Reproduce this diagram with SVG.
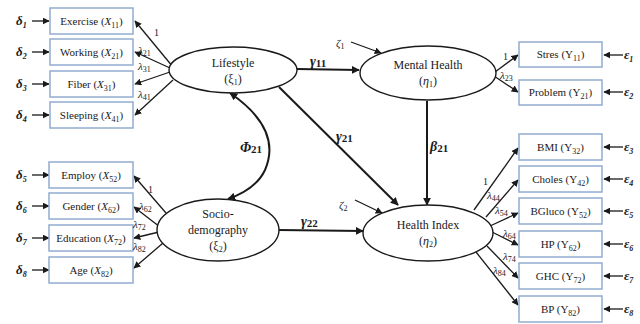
<svg xmlns="http://www.w3.org/2000/svg" width="640" height="324" viewBox="0 0 640 324" font-family="'Liberation Serif', 'DejaVu Serif', serif">
<defs>
<marker id="ah" viewBox="0 0 10 10" refX="9" refY="5" markerWidth="7" markerHeight="7" markerUnits="userSpaceOnUse" orient="auto-start-reverse">
<path d="M0,0 L10,5 L0,10 z" fill="#1a1a1a"/>
</marker>
<marker id="ahb" viewBox="0 0 10 10" refX="9" refY="5" markerWidth="8" markerHeight="8" markerUnits="userSpaceOnUse" orient="auto-start-reverse">
<path d="M0,0 L10,5 L0,10 z" fill="#1a1a1a"/>
</marker>
</defs>
<style>
text{font-family:"Liberation Serif","DejaVu Serif",serif;fill:#1a1a1a}
.box{fill:#fff;stroke:#93acd0;stroke-width:1.5}
.bt{font-size:11px;text-anchor:middle}
.el{fill:#fff;stroke:#1a1a1a;stroke-width:1.4}
.et{font-size:12px;text-anchor:middle}
.ln{stroke:#1a1a1a;stroke-width:1.3;fill:none;marker-end:url(#ah)}
.th{stroke:#1a1a1a;stroke-width:2;fill:none;marker-end:url(#ahb)}
.err{font-size:13px;font-weight:bold;font-style:italic}
.lam{font-size:11px;font-style:italic}
.one{font-size:10px}
.gk{font-size:14px;font-weight:bold;font-style:italic}
.s{font-style:normal}
</style>
<rect width="640" height="324" fill="#fff"/>

<g id="connectors">
<line class="ln" x1="32" y1="21" x2="49" y2="21"/>
<line class="ln" x1="32" y1="52" x2="49" y2="52"/>
<line class="ln" x1="32" y1="84" x2="49" y2="84"/>
<line class="ln" x1="32" y1="115" x2="49" y2="115"/>
<line class="ln" x1="32" y1="175" x2="49" y2="175"/>
<line class="ln" x1="32" y1="206" x2="49" y2="206"/>
<line class="ln" x1="32" y1="238" x2="49" y2="238"/>
<line class="ln" x1="32" y1="270" x2="49" y2="270"/>
<line class="ln" x1="623" y1="55" x2="604" y2="55"/>
<line class="ln" x1="623" y1="92" x2="604" y2="92"/>
<line class="ln" x1="623" y1="147" x2="604" y2="147"/>
<line class="ln" x1="623" y1="179" x2="604" y2="179"/>
<line class="ln" x1="623" y1="211" x2="604" y2="211"/>
<line class="ln" x1="623" y1="244" x2="604" y2="244"/>
<line class="ln" x1="623" y1="276" x2="604" y2="276"/>
<line class="ln" x1="623" y1="309" x2="604" y2="309"/>
<line class="ln" x1="173" y1="67" x2="135" y2="21"/>
<line class="ln" x1="170" y1="68" x2="135" y2="52"/>
<line class="ln" x1="170" y1="72" x2="135" y2="84"/>
<line class="ln" x1="173" y1="80" x2="135" y2="115"/>
<line class="ln" x1="166" y1="213" x2="134" y2="176"/>
<line class="ln" x1="160" y1="227" x2="134" y2="207"/>
<line class="ln" x1="159" y1="232" x2="134" y2="238"/>
<line class="ln" x1="163" y1="243" x2="134" y2="268"/>
<line class="ln" x1="495" y1="72" x2="518" y2="55"/>
<line class="ln" x1="494" y1="76" x2="518" y2="92"/>
<line class="ln" x1="474" y1="210" x2="518" y2="148"/>
<line class="ln" x1="486" y1="217" x2="518" y2="180"/>
<line class="ln" x1="490" y1="226" x2="518" y2="213"/>
<line class="ln" x1="492" y1="232" x2="518" y2="245"/>
<line class="ln" x1="487" y1="246" x2="518" y2="278"/>
<line class="ln" x1="476" y1="252" x2="518" y2="305"/>
<line class="ln" x1="351" y1="42" x2="381" y2="53"/>
<line class="ln" x1="355" y1="200" x2="382" y2="213"/>
<line class="th" x1="297" y1="69" x2="359" y2="70"/>
<line class="th" x1="279" y1="87" x2="398" y2="205"/>
<line class="th" x1="278" y1="230" x2="363" y2="231"/>
<line class="th" x1="427" y1="101" x2="427" y2="205"/>
<path class="th" d="M230,93 C262,115 278,140 265,170 C258,185 245,193 228,199" marker-start="url(#ahb)"/>
</g>

<g id="x11"><rect class="box" x="50" y="8" width="83" height="26"/><text class="bt" x="91.5" y="25">Exercise (<tspan font-style="italic">X</tspan><tspan dy="3" font-size="8">11</tspan><tspan dy="-3">)</tspan></text></g>
<g id="x21"><rect class="box" x="50" y="39" width="83" height="26"/><text class="bt" x="91.5" y="56">Working (<tspan font-style="italic">X</tspan><tspan dy="3" font-size="8">21</tspan><tspan dy="-3">)</tspan></text></g>
<g id="x31"><rect class="box" x="50" y="71" width="83" height="26"/><text class="bt" x="91.5" y="88">Fiber (<tspan font-style="italic">X</tspan><tspan dy="3" font-size="8">31</tspan><tspan dy="-3">)</tspan></text></g>
<g id="x41"><rect class="box" x="50" y="102" width="83" height="26"/><text class="bt" x="91.5" y="119">Sleeping (<tspan font-style="italic">X</tspan><tspan dy="3" font-size="8">41</tspan><tspan dy="-3">)</tspan></text></g>
<g id="x52"><rect class="box" x="49" y="162" width="84" height="26"/><text class="bt" x="91" y="179">Employ (<tspan font-style="italic">X</tspan><tspan dy="3" font-size="8">52</tspan><tspan dy="-3">)</tspan></text></g>
<g id="x62"><rect class="box" x="49" y="193" width="84" height="26"/><text class="bt" x="91" y="210">Gender (<tspan font-style="italic">X</tspan><tspan dy="3" font-size="8">62</tspan><tspan dy="-3">)</tspan></text></g>
<g id="x72"><rect class="box" x="49" y="225" width="84" height="26"/><text class="bt" x="91" y="242" font-size="10">Education (<tspan font-style="italic">X</tspan><tspan dy="3" font-size="8">72</tspan><tspan dy="-3">)</tspan></text></g>
<g id="x82"><rect class="box" x="49" y="257" width="84" height="26"/><text class="bt" x="91" y="274">Age (<tspan font-style="italic">X</tspan><tspan dy="3" font-size="8">82</tspan><tspan dy="-3">)</tspan></text></g>

<g id="y11"><rect class="box" x="519" y="42" width="83" height="25"/><text class="bt" x="560.5" y="58">Stres (Y<tspan dy="3" font-size="8">11</tspan><tspan dy="-3">)</tspan></text></g>
<g id="y21"><rect class="box" x="519" y="80" width="83" height="25"/><text class="bt" x="560.5" y="96">Problem (Y<tspan dy="3" font-size="8">21</tspan><tspan dy="-3">)</tspan></text></g>
<g id="y32"><rect class="box" x="519" y="134" width="83" height="26"/><text class="bt" x="560.5" y="151">BMI (Y<tspan dy="3" font-size="8">32</tspan><tspan dy="-3">)</tspan></text></g>
<g id="y42"><rect class="box" x="519" y="166" width="83" height="26"/><text class="bt" x="560.5" y="183">Choles (Y<tspan dy="3" font-size="8">42</tspan><tspan dy="-3">)</tspan></text></g>
<g id="y52"><rect class="box" x="519" y="198" width="83" height="26"/><text class="bt" x="560.5" y="215">BGluco (Y<tspan dy="3" font-size="8">52</tspan><tspan dy="-3">)</tspan></text></g>
<g id="y62"><rect class="box" x="519" y="231" width="83" height="26"/><text class="bt" x="560.5" y="248">HP (Y<tspan dy="3" font-size="8">62</tspan><tspan dy="-3">)</tspan></text></g>
<g id="y72"><rect class="box" x="519" y="263" width="83" height="26"/><text class="bt" x="560.5" y="280">GHC (Y<tspan dy="3" font-size="8">72</tspan><tspan dy="-3">)</tspan></text></g>
<g id="y82"><rect class="box" x="519" y="296" width="83" height="26"/><text class="bt" x="560.5" y="313">BP (Y<tspan dy="3" font-size="8">82</tspan><tspan dy="-3">)</tspan></text></g>

<g id="lifestyle"><ellipse class="el" cx="233" cy="70" rx="64" ry="23"/><text class="et" x="233" y="67">Lifestyle</text><text class="et" x="233" y="83">(ξ<tspan dy="2" font-size="8">1</tspan><tspan dy="-2">)</tspan></text></g>
<g id="socio"><ellipse class="el" cx="218" cy="230" rx="61" ry="31"/><text class="et" x="218" y="218">Socio-</text><text class="et" x="218" y="234">demography</text><text class="et" x="218" y="250">(ξ<tspan dy="2" font-size="8">2</tspan><tspan dy="-2">)</tspan></text></g>
<g id="mental"><ellipse class="el" cx="428" cy="73" rx="68" ry="27"/><text class="et" x="428" y="69">Mental Health</text><text class="et" x="428" y="85">(<tspan font-style="italic">η</tspan><tspan dy="2" font-size="8">1</tspan><tspan dy="-2">)</tspan></text></g>
<g id="health"><ellipse class="el" cx="428" cy="233" rx="65" ry="28"/><text class="et" x="428" y="229">Health Index</text><text class="et" x="428" y="245">(<tspan font-style="italic">η</tspan><tspan dy="2" font-size="8">2</tspan><tspan dy="-2">)</tspan></text></g>

<g id="labels">
<text class="err" x="16" y="25">δ<tspan dy="3" font-size="8">1</tspan></text>
<text class="err" x="16" y="56">δ<tspan dy="3" font-size="8">2</tspan></text>
<text class="err" x="16" y="88">δ<tspan dy="3" font-size="8">3</tspan></text>
<text class="err" x="16" y="119">δ<tspan dy="3" font-size="8">4</tspan></text>
<text class="err" x="16" y="179">δ<tspan dy="3" font-size="8">5</tspan></text>
<text class="err" x="16" y="210">δ<tspan dy="3" font-size="8">6</tspan></text>
<text class="err" x="16" y="242">δ<tspan dy="3" font-size="8">7</tspan></text>
<text class="err" x="16" y="274">δ<tspan dy="3" font-size="8">8</tspan></text>
<text class="err" x="624" y="59">ε<tspan dy="3" font-size="8">1</tspan></text>
<text class="err" x="624" y="96">ε<tspan dy="3" font-size="8">2</tspan></text>
<text class="err" x="624" y="151">ε<tspan dy="3" font-size="8">3</tspan></text>
<text class="err" x="624" y="183">ε<tspan dy="3" font-size="8">4</tspan></text>
<text class="err" x="624" y="215">ε<tspan dy="3" font-size="8">5</tspan></text>
<text class="err" x="624" y="248">ε<tspan dy="3" font-size="8">6</tspan></text>
<text class="err" x="624" y="280">ε<tspan dy="3" font-size="8">7</tspan></text>
<text class="err" x="624" y="313">ε<tspan dy="3" font-size="8">8</tspan></text>
<text class="one" x="154" y="36">1</text>
<text class="lam" x="138" y="54">λ<tspan class="s" dy="2" font-size="8">21</tspan></text>
<text class="lam" x="138" y="70">λ<tspan class="s" dy="2" font-size="8">31</tspan></text>
<text class="lam" x="138" y="98">λ<tspan class="s" dy="2" font-size="8">41</tspan></text>
<text class="one" x="148" y="193">1</text>
<text class="lam" x="139" y="210">λ<tspan class="s" dy="2" font-size="8">62</tspan></text>
<text class="lam" x="133" y="228">λ<tspan class="s" dy="2" font-size="8">72</tspan></text>
<text class="lam" x="133" y="250">λ<tspan class="s" dy="2" font-size="8">82</tspan></text>
<text class="one" x="503" y="60">1</text>
<text class="lam" x="500" y="79">λ<tspan class="s" dy="2" font-size="8">23</tspan></text>
<text class="one" x="483" y="185">1</text>
<text class="lam" x="487" y="199">λ<tspan class="s" dy="2" font-size="8">44</tspan></text>
<text class="lam" x="495" y="214">λ<tspan class="s" dy="2" font-size="8">54</tspan></text>
<text class="lam" x="503" y="237">λ<tspan class="s" dy="2" font-size="8">64</tspan></text>
<text class="lam" x="503" y="260">λ<tspan class="s" dy="2" font-size="8">74</tspan></text>
<text class="lam" x="493" y="274">λ<tspan class="s" dy="2" font-size="8">84</tspan></text>
<text class="lam" x="336" y="47" font-size="12">ζ<tspan class="s" dy="2" font-size="8">1</tspan></text>
<text class="lam" x="339" y="209" font-size="12">ζ<tspan class="s" dy="2" font-size="8">2</tspan></text>
<text class="gk" x="310" y="66">γ<tspan class="s" dy="1" font-size="11">11</tspan></text>
<text class="gk" x="336" y="141">γ<tspan class="s" dy="1" font-size="11">21</tspan></text>
<text class="gk" x="301" y="226">γ<tspan class="s" dy="1" font-size="11">22</tspan></text>
<text class="gk" x="430" y="151">β<tspan class="s" dy="1" font-size="11">21</tspan></text>
<text class="gk" x="240" y="152">Φ<tspan class="s" dy="1" font-size="11">21</tspan></text>
</g>
</svg>
